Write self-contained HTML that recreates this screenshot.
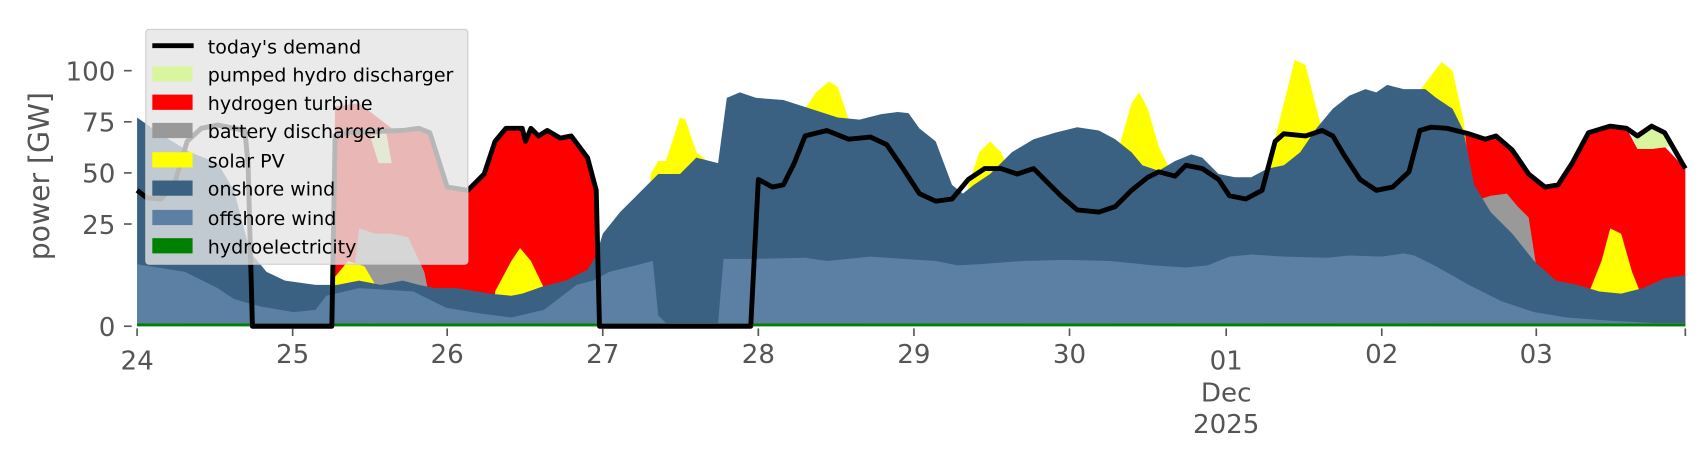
<!DOCTYPE html>
<html><head><meta charset="utf-8"><style>
html,body{margin:0;padding:0;background:#fff;width:1706px;height:460px;overflow:hidden}
svg{display:block}
text{font-family:"DejaVu Sans","Liberation Sans",sans-serif}
</style></head><body>
<svg width="1706" height="460" viewBox="0 0 1568 423" preserveAspectRatio="none" xmlns="http://www.w3.org/2000/svg">
<rect width="1568" height="423" fill="#fff"/>
<polygon fill="#ff0000" points="305,300 308,98 330,95 360,118 385,118 395,122 411,172 430,175 445,160 455,130 465,118 480,118 483,130 488,118 495,125 503,120 515,127 525,125 540,145 548,175 551,300"/>
<polygon fill="#ff0000" points="1318,300 1318,125 1330,118 1350,123 1365,128 1375,125 1390,138 1405,160 1420,172 1432,170 1445,150 1460,122 1480,116 1495,118 1505,137 1518,137 1530,135 1549,155 1549,300"/>
<polygon fill="#d9f5a0" points="1500,125 1505,125 1518,116 1530,122 1535,135 1518,137 1505,137"/>
<polygon fill="#d9f5a0" points="340,125 355,122 360,150 348,150"/>
<polygon fill="#999999" points="1350,300 1355,185 1370,180 1385,178 1395,190 1405,200 1412,245 1412,300"/>
<polygon fill="#999999" points="1162,160 1172,130 1178,152 1165,158"/>
<polygon fill="#999999" points="320,300 330,210 345,215 360,215 375,218 390,250 400,300"/>
<g fill="#ffff00">
<polygon points="300,300 305,258 320,240 335,245 345,262 345,300"/>
<polygon points="175,300 175,140 195,170 215,215 225,245 225,300"/>
<polygon points="455,300 455,268 470,240 478,228 488,240 500,265 500,300"/>
<polygon points="595,300 598,160 605,148 612,148 625,108 630,110 640,140 650,148 660,150 660,300"/>
<polygon points="738,300 740,100 750,85 762,75 770,80 780,110 792,130 792,300"/>
<polygon points="885,300 890,170 900,140 910,130 920,140 935,170 935,300"/>
<polygon points="1028,300 1030,130 1040,95 1047,85 1055,100 1065,135 1075,155 1075,300"/>
<polygon points="1163,300 1165,155 1180,95 1190,55 1200,60 1210,100 1222,145 1222,300"/>
<polygon points="1298,300 1300,90 1315,70 1325,57 1335,65 1345,110 1352,170 1365,200 1365,300"/>
<polygon points="1458,300 1460,270 1472,240 1480,210 1490,215 1500,250 1510,275 1510,300"/>
</g>
<polygon fill="#3b6182" points="126,300 126,108 150,125 175,140 200,150 215,175 230,232 245,250 262,258 290,262 310,262 330,258 350,262 370,258 385,262 400,265 420,265 450,270 470,272 480,270 500,263 520,258 540,248 548,235 554,215 570,195 590,175 605,160 625,160 640,145 660,150 668,90 680,85 695,90 720,92 745,100 770,108 790,110 810,105 825,103 835,104 845,118 860,130 875,170 885,178 895,170 910,160 930,140 950,128 970,122 990,117 1010,120 1025,128 1040,140 1050,152 1065,157 1080,148 1095,142 1105,145 1120,160 1135,163 1150,163 1165,155 1180,152 1195,140 1210,118 1225,100 1240,88 1255,82 1265,85 1275,78 1290,82 1310,82 1320,90 1335,100 1345,120 1355,170 1370,195 1390,215 1410,240 1430,258 1450,262 1470,268 1490,270 1510,265 1530,256 1549,253 1549,300"/>
<polygon fill="#5b80a3" points="126,300 126,243 170,250 200,265 215,275 240,282 270,287 290,285 300,272 330,265 380,268 410,283 440,288 470,292 500,285 530,262 545,258 560,250 600,240 605,290 612,297 660,297 665,238 697,238 740,237 760,240 800,236 830,238 860,240 880,244 900,243 940,240 980,239 1020,240 1060,244 1090,246 1110,244 1130,236 1150,234 1180,236 1220,237 1240,235 1270,236 1290,233 1300,235 1320,245 1350,262 1380,277 1410,287 1440,292 1480,295 1520,297 1549,297 1549,300"/>
<rect x="126" y="297.5" width="1423" height="2.5" fill="#008000"/>
<polyline fill="none" stroke="#000" stroke-width="4.5" stroke-linejoin="round" points="126,175 135,182 148,183 160,170 172,130 185,118 200,115 215,118 225,120 228,150 232,300 305,300 308,125 320,122 370,120 385,118 395,122 411,172 430,175 445,160 455,130 465,118 480,118 483,130 488,118 495,125 503,120 515,127 525,125 540,145 548,175 551,300 690,300 697,165 710,172 720,170 730,150 740,125 760,120 780,128 800,126 815,133 830,155 845,178 860,185 875,183 890,165 905,155 920,155 935,160 950,155 960,165 975,180 990,193 1010,195 1025,190 1040,175 1055,163 1065,158 1080,162 1090,152 1105,155 1120,165 1130,180 1145,183 1160,175 1172,130 1180,123 1200,125 1215,120 1225,125 1235,142 1250,165 1265,175 1280,172 1295,158 1305,120 1315,117 1330,118 1350,123 1365,128 1375,125 1390,138 1405,160 1420,172 1432,170 1445,150 1460,122 1480,116 1495,118 1505,125 1518,116 1530,122 1549,155"/>
<g stroke="#555" stroke-width="1.5">
<line x1="114" y1="65" x2="121" y2="65"/><line x1="114" y1="112" x2="121" y2="112"/><line x1="114" y1="159" x2="121" y2="159"/><line x1="114" y1="206" x2="121" y2="206"/><line x1="114" y1="300" x2="121" y2="300"/>
<line x1="126" y1="302" x2="126" y2="309"/><line x1="269" y1="302" x2="269" y2="309"/><line x1="411" y1="302" x2="411" y2="309"/><line x1="554" y1="302" x2="554" y2="309"/><line x1="697" y1="302" x2="697" y2="309"/><line x1="840" y1="302" x2="840" y2="309"/><line x1="983" y1="302" x2="983" y2="309"/><line x1="1127" y1="302" x2="1127" y2="309"/><line x1="1270" y1="302" x2="1270" y2="309"/><line x1="1412" y1="302" x2="1412" y2="309"/><line x1="1549" y1="302" x2="1549" y2="309"/>
</g>
<g fill="#555" font-size="24" text-anchor="end">
<text x="106" y="74">100</text><text x="106" y="121">75</text><text x="106" y="168">50</text><text x="106" y="215">25</text><text x="106" y="309">0</text>
</g>
<g fill="#555" font-size="24" text-anchor="middle">
<text x="126" y="340">24</text><text x="269" y="334">25</text><text x="411" y="334">26</text><text x="554" y="334">27</text><text x="697" y="334">28</text><text x="840" y="334">29</text><text x="983" y="334">30</text><text x="1127" y="340">01</text><text x="1270" y="334">02</text><text x="1412" y="334">03</text>
<text x="1127" y="369">Dec</text><text x="1127" y="398">2025</text>
</g>
<text x="0" y="0" fill="#555" font-size="26" text-anchor="middle" transform="translate(45,162) rotate(-90)">power [GW]</text>
<rect x="134" y="27" width="296" height="216" rx="3" fill="#e5e5e5" fill-opacity="0.8" stroke="#cccccc" stroke-width="1"/>
<line x1="140" y1="42" x2="178" y2="42" stroke="#000" stroke-width="4.5"/>
<rect x="140" y="61" width="37" height="14" fill="#d9f5a0"/>
<rect x="140" y="87" width="37" height="14" fill="#ff0000"/>
<rect x="140" y="113" width="37" height="14" fill="#999999"/>
<rect x="140" y="140" width="37" height="14" fill="#ffff00"/>
<rect x="140" y="166" width="37" height="14" fill="#3b6182"/>
<rect x="140" y="193" width="37" height="14" fill="#5b80a3"/>
<rect x="140" y="219" width="37" height="14" fill="#008000"/>
<g fill="#000" font-size="17.5">
<text x="191" y="49">today's demand</text><text x="191" y="75">pumped hydro discharger</text><text x="191" y="101">hydrogen turbine</text><text x="191" y="127">battery discharger</text><text x="191" y="154">solar PV</text><text x="191" y="180">onshore wind</text><text x="191" y="207">offshore wind</text><text x="191" y="233">hydroelectricity</text>
</g>
</svg>
</body></html>
